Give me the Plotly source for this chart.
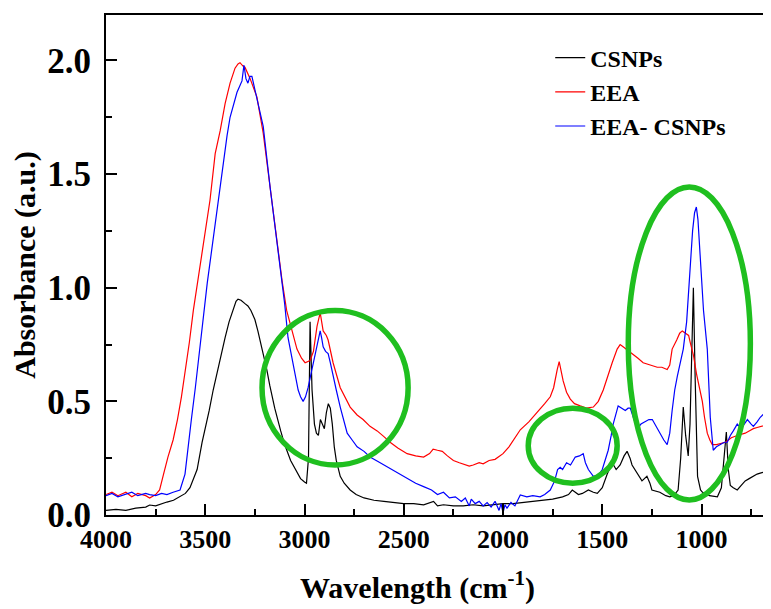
import plotly.graph_objects as go

# ---------------- data ----------------
csnps_wn = [4000, 3950, 3900, 3850, 3800, 3780, 3750, 3720, 3693, 3660, 3627, 3600, 3577, 3560, 3541, 3516,
            3500, 3480, 3460, 3440, 3420, 3400, 3380, 3360, 3345, 3335, 3320, 3300, 3285, 3270, 3250, 3235,
            3210, 3190, 3175, 3150, 3120, 3100, 3070, 3040, 3020, 3000, 2990, 2980, 2972, 2962, 2950, 2940,
            2930, 2920, 2912, 2900, 2890, 2880, 2870, 2860, 2850, 2840, 2820, 2800, 2770, 2740, 2700, 2650,
            2600, 2550, 2500, 2450, 2400, 2350, 2330, 2300, 2250, 2200, 2150, 2100, 2050, 2000, 1950, 1900,
            1850, 1800, 1750, 1700, 1670, 1651, 1635, 1620, 1600, 1570, 1545, 1525, 1500, 1475, 1450, 1430,
            1410, 1390, 1375, 1360, 1350, 1325, 1300, 1275, 1260, 1250, 1210, 1180, 1160, 1140, 1118, 1105,
            1092, 1080, 1067, 1058, 1048, 1041, 1032, 1020, 1005, 995, 960, 920, 900, 890, 875, 865,
            855, 840, 820, 800, 780, 760, 740, 720, 700, 680, 650]
csnps_abs = [0.02, 0.025, 0.02, 0.03, 0.035, 0.044, 0.04, 0.05, 0.057, 0.065, 0.08, 0.095, 0.12, 0.155, 0.2, 0.32,
             0.38, 0.46, 0.55, 0.63, 0.71, 0.78, 0.85, 0.9, 0.94, 0.95, 0.945, 0.93, 0.92, 0.9, 0.86, 0.81,
             0.72, 0.64, 0.57, 0.47, 0.37, 0.31, 0.24, 0.19, 0.16, 0.145, 0.14, 0.25, 0.85, 0.55, 0.4, 0.36,
             0.35, 0.42, 0.4, 0.38, 0.45, 0.49, 0.47, 0.4, 0.3, 0.24, 0.17, 0.14, 0.11, 0.09, 0.075, 0.065,
             0.06, 0.055, 0.05, 0.05, 0.045, 0.06, 0.04, 0.045, 0.04, 0.04, 0.045, 0.04, 0.045, 0.05, 0.05, 0.055,
             0.06, 0.065, 0.07, 0.08, 0.09, 0.11, 0.1, 0.09, 0.095, 0.11, 0.1, 0.095, 0.12, 0.18, 0.23, 0.2,
             0.22, 0.26, 0.28, 0.25, 0.22, 0.185, 0.15, 0.17, 0.14, 0.11, 0.1, 0.085, 0.08, 0.085, 0.11, 0.25,
             0.475, 0.35, 0.26, 0.4, 0.8, 1.0, 0.6, 0.17, 0.11, 0.1, 0.085, 0.08, 0.12, 0.21, 0.365, 0.2,
             0.13, 0.12, 0.11, 0.13, 0.15, 0.16, 0.17, 0.18, 0.185, 0.19, 0.18]

eea_wn = [4000, 3970, 3940, 3900, 3870, 3840, 3800, 3780, 3750, 3730, 3710, 3688, 3662, 3640, 3620, 3600,
          3580, 3560, 3540, 3520, 3500, 3476, 3450, 3425, 3400, 3375, 3350, 3335, 3325, 3310, 3300, 3285,
          3274, 3240, 3208, 3173, 3140, 3113, 3090, 3073, 3055, 3038, 3015, 2997, 2972, 2955, 2937, 2921,
          2906, 2890, 2881, 2856, 2820, 2790, 2770, 2735, 2705, 2670, 2634, 2600, 2569, 2530, 2483, 2440,
          2400, 2370, 2352, 2330, 2306, 2280, 2250, 2220, 2200, 2170, 2150, 2120, 2100, 2070, 2040, 2000,
          1970, 1940, 1913, 1870, 1828, 1790, 1762, 1745, 1727, 1717, 1697, 1680, 1661, 1640, 1611, 1580,
          1545, 1520, 1495, 1470, 1450, 1425, 1410, 1395, 1380, 1360, 1344, 1320, 1294, 1260, 1223, 1200,
          1173, 1160, 1148, 1125, 1110, 1097, 1080, 1065, 1057, 1040, 1025, 1010, 996, 985, 971, 958,
          946, 925, 905, 880, 865, 850, 820, 800, 780, 760, 739, 720, 700, 680, 653]
eea_abs = [0.09, 0.1, 0.085, 0.1, 0.08, 0.095, 0.085, 0.075, 0.09, 0.11, 0.18, 0.255, 0.33, 0.42, 0.52, 0.63,
           0.76, 0.9, 1.02, 1.14, 1.26, 1.386, 1.59, 1.69, 1.81, 1.9, 1.966, 1.985, 1.99, 1.975, 1.97, 1.94,
           1.92, 1.84, 1.68, 1.44, 1.2, 1.03, 0.9, 0.84, 0.78, 0.73, 0.69, 0.67, 0.68, 0.72, 0.83, 0.89,
           0.81, 0.79, 0.77, 0.67, 0.56, 0.51, 0.475, 0.44, 0.42, 0.39, 0.37, 0.345, 0.32, 0.295, 0.27, 0.26,
           0.255, 0.27, 0.29, 0.285, 0.28, 0.26, 0.24, 0.23, 0.225, 0.215, 0.22, 0.23, 0.225, 0.24, 0.245, 0.27,
           0.3, 0.34, 0.375, 0.41, 0.45, 0.49, 0.52, 0.56, 0.64, 0.675, 0.59, 0.54, 0.51, 0.49, 0.48, 0.47,
           0.475, 0.5, 0.55, 0.62, 0.67, 0.73, 0.75, 0.74, 0.73, 0.72, 0.71, 0.69, 0.67, 0.66, 0.65, 0.65,
           0.64, 0.66, 0.73, 0.77, 0.8, 0.81, 0.8, 0.79, 0.76, 0.7, 0.62, 0.55, 0.5, 0.43, 0.36, 0.33,
           0.31, 0.31, 0.315, 0.32, 0.33, 0.34, 0.35, 0.355, 0.36, 0.37, 0.38, 0.385, 0.39, 0.395, 0.4]

eea_csnps_wn = [4000, 3970, 3940, 3900, 3870, 3840, 3800, 3780, 3750, 3720, 3693, 3662, 3627, 3602, 3587, 3570,
                3550, 3530, 3510, 3490, 3470, 3450, 3435, 3410, 3390, 3375, 3355, 3340, 3325, 3315, 3305, 3295,
                3285, 3275, 3265, 3255, 3240, 3208, 3173, 3140, 3113, 3100, 3083, 3070, 3057, 3045, 3032, 3020,
                3007, 2995, 2982, 2970, 2956, 2940, 2930, 2921, 2914, 2906, 2894, 2881, 2870, 2856, 2840, 2820,
                2800, 2785, 2760, 2735, 2700, 2670, 2630, 2600, 2560, 2520, 2480, 2440, 2400, 2360, 2330, 2300,
                2270, 2240, 2210, 2190, 2170, 2160, 2140, 2120, 2100, 2080, 2060, 2040, 2020, 2010, 2000, 1990,
                1980, 1960, 1940, 1913, 1880, 1850, 1813, 1790, 1762, 1740, 1725, 1712, 1700, 1680, 1660, 1636,
                1615, 1596, 1585, 1570, 1545, 1520, 1500, 1485, 1470, 1455, 1445, 1420, 1400, 1384, 1370, 1359,
                1340, 1324, 1305, 1284, 1265, 1248, 1230, 1208, 1190, 1173, 1160, 1148, 1135, 1122, 1105, 1092,
                1075, 1060, 1045, 1035, 1026, 1018, 1005, 990, 971, 956, 941, 925, 905, 885, 870, 855,
                840, 820, 800, 785, 769, 750, 739, 720, 704, 680, 665, 653]
eea_csnps_abs = [0.085, 0.095, 0.08, 0.09, 0.1, 0.085, 0.095, 0.09, 0.085, 0.095, 0.09, 0.1, 0.11, 0.18, 0.3, 0.42,
                 0.56, 0.72, 0.88, 1.02, 1.15, 1.28, 1.386, 1.56, 1.67, 1.75, 1.82, 1.86, 1.89, 1.91, 1.98, 1.92,
                 1.9, 1.93, 1.93, 1.89, 1.84, 1.71, 1.44, 1.22, 1.03, 0.93, 0.78, 0.72, 0.67, 0.6, 0.55, 0.52,
                 0.5, 0.52, 0.56, 0.61, 0.67, 0.74, 0.78, 0.81, 0.78, 0.74, 0.72, 0.71, 0.67, 0.62, 0.55, 0.475,
                 0.41, 0.36, 0.33, 0.3, 0.28, 0.255, 0.235, 0.22, 0.2, 0.18, 0.16, 0.14, 0.125, 0.11, 0.09, 0.1,
                 0.075, 0.08, 0.06, 0.075, 0.04, 0.07, 0.05, 0.06, 0.04, 0.055, 0.035, 0.06, 0.02, 0.05, 0.01, 0.045,
                 0.03, 0.055, 0.04, 0.088, 0.08, 0.085, 0.08, 0.09, 0.11, 0.15, 0.2, 0.21, 0.2, 0.23, 0.22, 0.255,
                 0.26, 0.27, 0.23, 0.2, 0.17, 0.175, 0.2, 0.24, 0.285, 0.35, 0.4, 0.48, 0.47, 0.46, 0.47, 0.47,
                 0.42, 0.38, 0.4, 0.41, 0.42, 0.42, 0.39, 0.36, 0.33, 0.31, 0.36, 0.46, 0.55, 0.61, 0.68, 0.73,
                 0.85, 1.05, 1.25, 1.33, 1.355, 1.3, 1.1, 0.9, 0.73, 0.43, 0.285, 0.3, 0.31, 0.32, 0.32, 0.35,
                 0.37, 0.4, 0.38, 0.4, 0.42, 0.4, 0.39, 0.41, 0.43, 0.45, 0.44, 0.475]

series_names = ["CSNPs", "EEA", "EEA- CSNPs"]
series_colors = ["#000000", "#ff0000", "#0000ff"]

x_ticks = [4000, 3500, 3000, 2500, 2000, 1500, 1000]
y_ticks = [0.0, 0.5, 1.0, 1.5, 2.0]

FONT = "Liberation Serif, Times New Roman, serif"

fig = go.Figure()
for i, (wn, ab) in enumerate([(csnps_wn, csnps_abs), (eea_wn, eea_abs), (eea_csnps_wn, eea_csnps_abs)]):
    fig.add_trace(go.Scatter(
        x=wn, y=ab, mode="lines", name=series_names[i],
        legendgroup=series_names[i],
        line=dict(color=series_colors[i], width=1.2),
    ))

# green highlight ellipses (annotation shapes)
green = "#1fbf1f"
for (xa, xb, ya, yb) in [(3214, 2478, 0.22, 0.90), (1873, 1425, 0.14, 0.47), (1369, 754, 0.066, 1.443)]:
    fig.add_shape(type="circle", xref="x", yref="y", x0=xa, x1=xb, y0=ya, y1=yb,
                  line=dict(color=green, width=5.5), layer="above")

# x-axis title (placed as an annotation so it sits where the reference has it)
fig.add_annotation(
    text="Wavelength (cm<sup>-1</sup>)", xref="paper", yref="paper",
    x=0.469, y=-0.14, xanchor="center", yanchor="middle", showarrow=False,
    font=dict(family=FONT, size=30, color="black", weight="bold"),
)

# the page body adds an 8px offset, so the figure is sized to fit the window
fig.update_layout(
    width=763, height=601,
    margin=dict(l=98, r=0, t=7, b=94, autoexpand=False),
    paper_bgcolor="white", plot_bgcolor="white",
    font=dict(family=FONT, color="black", weight="bold"),
    showlegend=True,
    legend=dict(
        x=0.668, y=0.959, xanchor="left", yanchor="top",
        bgcolor="rgba(0,0,0,0)", borderwidth=0,
        font=dict(family=FONT, size=24, color="black", weight="bold"),
        tracegroupgap=0,
    ),
)

fig.update_xaxes(
    range=[4000, 650], automargin=False,
    tickvals=x_ticks, ticktext=[str(v) for v in x_ticks],
    ticks="inside", ticklen=11, tickwidth=1.5, tickcolor="black",
    minor=dict(dtick=250, tick0=0, ticks="inside", ticklen=6, tickwidth=1.5, tickcolor="black"),
    showline=True, linewidth=2, linecolor="black", mirror=True,
    showgrid=False, zeroline=False,
    tickfont=dict(family=FONT, size=26, color="black", weight="bold"),
)
fig.update_yaxes(
    range=[0, 2.2], automargin=False,
    tickvals=y_ticks, ticktext=[f"{v:.1f}" for v in y_ticks],
    ticks="inside", ticklen=11, tickwidth=1.5, tickcolor="black",
    minor=dict(dtick=0.25, tick0=0, ticks="inside", ticklen=6, tickwidth=1.5, tickcolor="black"),
    showline=True, linewidth=2, linecolor="black", mirror=True,
    showgrid=False, zeroline=False,
    ticklabelstandoff=6,
    tickfont=dict(family=FONT, size=35, color="black", weight="bold"),
    title=dict(text="Absorbance (a.u.)", standoff=6,
               font=dict(family=FONT, size=30, color="black", weight="bold")),
)

fig.write_html("out.html")
